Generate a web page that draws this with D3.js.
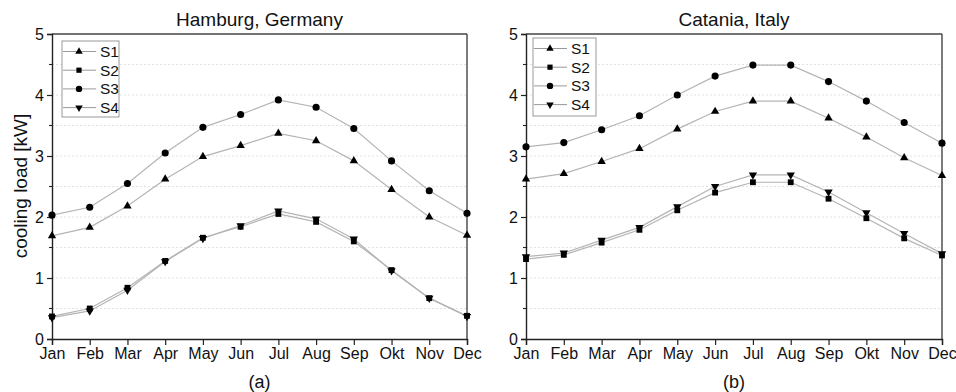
<!DOCTYPE html>
<html><head><meta charset="utf-8">
<script src="https://cdn.jsdelivr.net/npm/d3@7"></script>
<style>body{margin:0;background:#fff}svg{display:block}text{font-family:"Liberation Sans",Arial,sans-serif;fill:#111}</style>
</head><body><svg id="c" width="956" height="392"></svg>
<script>
const months = ["Jan","Feb","Mar","Apr","May","Jun","Jul","Aug","Sep","Okt","Nov","Dec"];
const seriesNames = ["S1","S2","S3","S4"];
const yTicks = [0,1,2,3,4,5];
const gridValues = [0.5,1,1.5,2,2.5,3,3.5,4,4.5];

// Hamburg, Germany
const hamS1 = [1.69,1.83,2.18,2.62,2.99,3.17,3.37,3.25,2.92,2.45,2.00,1.70];
const hamS2 = [0.37,0.50,0.84,1.28,1.66,1.84,2.05,1.92,1.60,1.13,0.67,0.38];
const hamS3 = [2.03,2.16,2.55,3.05,3.47,3.68,3.92,3.80,3.45,2.92,2.43,2.06];
const hamS4 = [0.35,0.46,0.80,1.27,1.65,1.86,2.10,1.97,1.64,1.12,0.67,0.37];
// Catania, Italy
const catS1 = [2.62,2.71,2.91,3.12,3.44,3.73,3.90,3.90,3.62,3.31,2.97,2.68];
const catS2 = [1.31,1.38,1.58,1.79,2.11,2.40,2.57,2.57,2.30,1.98,1.65,1.37];
const catS3 = [3.15,3.22,3.43,3.66,4.00,4.31,4.49,4.49,4.22,3.90,3.55,3.21];
const catS4 = [1.35,1.41,1.62,1.83,2.17,2.50,2.69,2.69,2.41,2.07,1.73,1.40];

const panels = [
  {title:"Hamburg, Germany", label:"(a)", data:[hamS1,hamS2,hamS3,hamS4], x0:52, x1:467, showYLabel:true, legend:{x:62,y:41,w:57,h:76}},
  {title:"Catania, Italy", label:"(b)", data:[catS1,catS2,catS3,catS4], x0:526, x1:942, showYLabel:false, legend:{x:533,y:38,w:63,h:78}}
];
const plotTop = 34, plotBottom = 339;
const symbols = [
  {type:d3.symbolTriangle, size:30, rot:0},
  {type:d3.symbolSquare, size:34, rot:0},
  {type:d3.symbolCircle, size:40, rot:0},
  {type:d3.symbolTriangle, size:30, rot:180}
];
const svg = d3.select("#c");

panels.forEach(p => {
  const g = svg.append("g");
  const x = d3.scalePoint().domain(months).range([p.x0, p.x1]);
  const y = d3.scaleLinear().domain([0,5]).range([plotBottom, plotTop]);

  // grid
  g.selectAll(".grid").data(gridValues).enter().append("line")
    .attr("x1", p.x0).attr("x2", p.x1)
    .attr("y1", d => y(d)).attr("y2", d => y(d))
    .attr("stroke", "#dadada").attr("stroke-width", 0.8).attr("stroke-dasharray", "2,2");

  // frame top and right
  g.append("line").attr("x1", p.x0).attr("x2", p.x1).attr("y1", plotTop).attr("y2", plotTop).attr("stroke", "#444").attr("stroke-width", 1.4);
  g.append("line").attr("x1", p.x1).attr("x2", p.x1).attr("y1", plotTop).attr("y2", plotBottom).attr("stroke", "#444").attr("stroke-width", 1.4);

  // axes
  const xAxis = d3.axisBottom(x).tickSize(6).tickPadding(3);
  const gx = g.append("g").attr("transform", `translate(0,${plotBottom})`).call(xAxis);
  gx.select(".domain").attr("stroke", "#222").attr("stroke-width", 1.4);
  gx.selectAll(".tick line").attr("stroke", "#222").attr("stroke-width", 1.2);
  gx.selectAll("text").attr("font-size", 16).attr("fill", "#111").attr("font-family", "Liberation Sans, Arial, sans-serif");

  const yAxis = d3.axisLeft(y).tickValues(yTicks).tickFormat(d3.format("d")).tickSize(5).tickPadding(3);
  const gy = g.append("g").attr("transform", `translate(${p.x0},0)`).call(yAxis);
  gy.select(".domain").attr("stroke", "#222").attr("stroke-width", 1.4);
  gy.selectAll(".tick line").attr("stroke", "#222").attr("stroke-width", 1.2);
  gy.selectAll("text").attr("font-size", 16).attr("fill", "#111").attr("font-family", "Liberation Sans, Arial, sans-serif");
  // minor ticks
  g.selectAll(".minor").data([0.5,1.5,2.5,3.5,4.5]).enter().append("line")
    .attr("x1", p.x0 - 3).attr("x2", p.x0).attr("y1", d => y(d)).attr("y2", d => y(d))
    .attr("stroke", "#222").attr("stroke-width", 1.1);

  // lines
  const line = d3.line().x((d,i) => x(months[i])).y(d => y(d));
  p.data.forEach((s, k) => {
    g.append("path").datum(s).attr("d", line).attr("fill", "none")
      .attr("stroke", "#b4b4b4").attr("stroke-width", 1.2);
  });
  p.data.forEach((s, k) => {
    const sym = symbols[k];
    g.selectAll(".m" + k).data(s).enter().append("path")
      .attr("d", d3.symbol().type(sym.type).size(sym.size))
      .attr("transform", (d,i) => `translate(${x(months[i])},${y(d)}) rotate(${sym.rot})`)
      .attr("fill", "#000");
  });

  // legend
  const L = p.legend;
  g.append("rect").attr("x", L.x).attr("y", L.y).attr("width", L.w).attr("height", L.h)
    .attr("fill", "#fff").attr("stroke", "#999").attr("stroke-width", 1);
  seriesNames.forEach((n, k) => {
    const ly = L.y + 10.5 + k * 18.7;
    g.append("line").attr("x1", L.x + 1).attr("x2", L.x + 34).attr("y1", ly).attr("y2", ly)
      .attr("stroke", "#999").attr("stroke-width", 1);
    const sym = symbols[k];
    g.append("path").attr("d", d3.symbol().type(sym.type).size(sym.size * 0.8))
      .attr("transform", `translate(${L.x + 17},${ly}) rotate(${sym.rot})`).attr("fill", "#000");
    g.append("text").attr("x", L.x + 38).attr("y", ly).attr("dy", "0.36em")
      .attr("font-size", 15.5).text(n);
  });

  // title and label
  g.append("text").attr("x", (p.x0 + p.x1) / 2).attr("y", 26).attr("text-anchor", "middle")
    .attr("font-size", 19).text(p.title);
  g.append("text").attr("x", (p.x0 + p.x1) / 2).attr("y", 388).attr("text-anchor", "middle")
    .attr("font-size", 18).text(p.label);
  if (p.showYLabel) {
    g.append("text").attr("transform", `translate(20,186) rotate(-90)`)
      .attr("text-anchor", "middle").attr("dy", "0.35em").attr("font-size", 19).text("cooling load [kW]");
  }
});
</script></body></html>
